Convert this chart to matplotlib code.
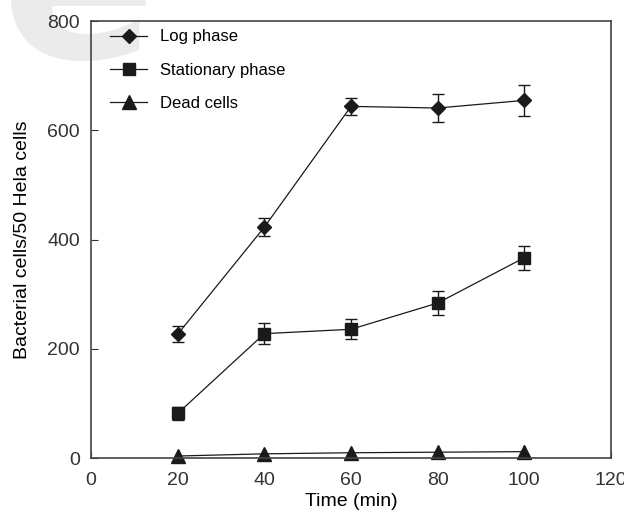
import matplotlib.pyplot as plt

plt.rcParams['font.family'] = ['Liberation Sans', 'DejaVu Sans']

time = [20, 40, 60, 80, 100]
log_phase = [227, 423, 644, 641, 655]
log_err = [15, 16, 15, 25, 28]
stat_phase = [82, 228, 236, 284, 367]
stat_err = [12, 19, 18, 22, 22]
dead_cells = [4, 8, 10, 11, 12]

fig = plt.figure(figsize=(6.24, 5.16), dpi=100)

# faint watermark letter behind the plot
fig.text(0.125, 0.888, 'e', fontsize=165, fontweight='bold', color='#ebebeb',
         ha='center', va='baseline', family='DejaVu Sans', zorder=0)

ax = fig.add_axes([0.146, 0.112, 0.833, 0.847])
ax.set_zorder(1)
ax.patch.set_alpha(0)

e1 = ax.errorbar(time, log_phase, yerr=log_err, color='#1a1a1a', marker='D', markersize=7.5,
                 linewidth=0.9, elinewidth=1.0, capsize=4)
e2 = ax.errorbar(time, stat_phase, yerr=stat_err, color='#1a1a1a', marker='s', markersize=8.5,
                 linewidth=0.9, elinewidth=1.0, capsize=4)
l3, = ax.plot(time, dead_cells, color='#1a1a1a', marker='^', markersize=10.5,
              linewidth=0.9, clip_on=False)

ax.set_xlim(0, 120)
ax.set_ylim(0, 800)
ax.set_xticks([0, 20, 40, 60, 80, 100, 120])
ax.set_yticks([0, 200, 400, 600, 800])
ax.tick_params(direction='in', length=5, labelsize=14, colors='#333333')
ax.tick_params(axis='x', pad=10)
ax.tick_params(axis='y', pad=8)
for s in ax.spines.values():
    s.set_color('#444444')
    s.set_linewidth(1.2)

ax.set_xlabel('Time (min)', fontsize=14, labelpad=3)
ax.set_ylabel('Bacterial cells/50 Hela cells', fontsize=14, labelpad=12)

ax.legend([e1[0], e2[0], l3], ['Log phase', 'Stationary phase', 'Dead cells'],
          loc='upper left', bbox_to_anchor=(0.021, 1.0), frameon=False, fontsize=12,
          handlelength=2.2, labelspacing=1.1, borderaxespad=0.1, handletextpad=0.8)

fig.savefig('out.png', dpi=100)
